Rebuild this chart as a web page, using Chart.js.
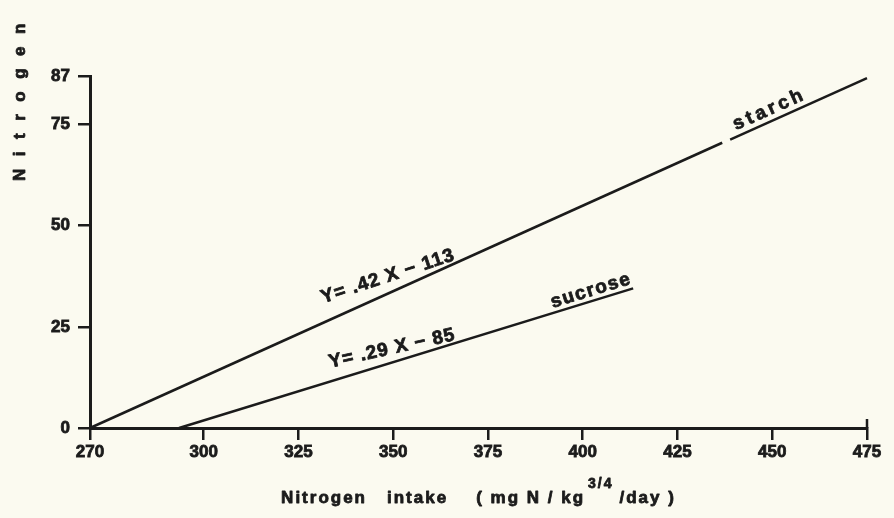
<!DOCTYPE html>
<html>
<head>
<meta charset="utf-8">
<script src="https://cdn.jsdelivr.net/npm/chart.js@4.4.0/dist/chart.umd.min.js"></script>
<style>
  html, body { margin: 0; padding: 0; background: #fbfaf0; }
  canvas { display: block; }
</style>
</head>
<body>
<canvas id="chart" width="894" height="518"></canvas>
<script>
// Nitrogen retention vs nitrogen intake — starch and sucrose diets
const xTicks = [270, 300, 325, 350, 375, 400, 425, 450, 475];
const yTicks = [0, 25, 50, 75, 87];

// starch line has a short break just left of its label
const starchX = [270, 436.8, 438.9, 475];
const starchY = [0, 70.5, 71.3, 86.5];

const sucroseX = [293.5, 413.3];
const sucroseY = [0, 34.5];

const INK = "#1b1b1b";
const PAPER = "#fbfaf0";
const FAMILY = "'Liberation Sans', Arial, sans-serif";

function pts(xs, ys) {
  return xs.map((x, i) => ({ x, y: ys[i] }));
}

// labels written along the lines (at = x value where label is anchored)
const lineLabels = [
  { ds: 0, text: "Y= .42 X \u2212 113", at: 366.8, align: "right", tilt: 6, gap: 1, size: 19, spacing: 1 },
  { ds: 1, text: "Y= .29 X \u2212 85", at: 366.8, align: "right", tilt: 4.5, gap: 1, size: 19, spacing: 1 },
  { ds: 1, text: "sucrose", at: 403, align: "center", tilt: 0, gap: 3, size: 19, spacing: 1.5 },
  { ds: 0, text: "starch", at: 450.5, align: "center", tilt: 0, gap: 4, size: 19, spacing: 3.5 },
];

const xTitle = [
  { t: "Nitrogen", gap: 0 },
  { t: "intake", gap: 20 },
  { t: "( mg N / kg", gap: 28 },
  { t: "3/4", gap: 3, sup: true },
  { t: "/day )", gap: 6 },
];

function yOnLine(d, xv) {
  for (let i = 0; i < d.length - 1; i++) {
    if (xv >= d[i].x && xv <= d[i + 1].x) {
      return d[i].y + (d[i + 1].y - d[i].y) * (xv - d[i].x) / (d[i + 1].x - d[i].x);
    }
  }
  return d[d.length - 1].y;
}

// heavy photocopy-style text: fill plus a thin stroke
function inkText(ctx, s, x, y) {
  ctx.fillText(s, x, y);
  ctx.strokeText(s, x, y);
}

const decor = {
  id: "decor",
  beforeDraw(chart) {
    const { ctx, width, height } = chart;
    ctx.save();
    ctx.fillStyle = PAPER;
    ctx.fillRect(0, 0, width, height);
    ctx.restore();
  },
  afterDraw(chart) {
    const { ctx } = chart;
    const xs = chart.scales.x, ys = chart.scales.y;
    ctx.save();
    ctx.fillStyle = INK;
    ctx.strokeStyle = INK;
    ctx.lineWidth = 0.8;
    ctx.lineJoin = "round";

    // labels on the lines
    lineLabels.forEach((l) => {
      const d = chart.data.datasets[l.ds].data;
      const p0 = d[0], p1 = d[d.length - 1];
      const ang = Math.atan2(
        ys.getPixelForValue(p1.y) - ys.getPixelForValue(p0.y),
        xs.getPixelForValue(p1.x) - xs.getPixelForValue(p0.x)
      ) + (l.tilt * Math.PI) / 180;
      const px = xs.getPixelForValue(l.at);
      const py = ys.getPixelForValue(yOnLine(d, l.at));
      ctx.save();
      ctx.translate(px, py);
      ctx.rotate(ang);
      ctx.font = `bold ${l.size}px ${FAMILY}`;
      ctx.letterSpacing = l.spacing + "px";
      ctx.textAlign = l.align;
      ctx.textBaseline = "alphabetic";
      inkText(ctx, l.text, 0, -l.gap - 2);
      ctx.restore();
    });

    // x axis title
    ctx.letterSpacing = "2px";
    ctx.textBaseline = "alphabetic";
    ctx.textAlign = "left";
    const mainFont = `bold 17px ${FAMILY}`;
    const supFont = `bold 14px ${FAMILY}`;
    let total = 0;
    xTitle.forEach((p) => {
      ctx.font = p.sup ? supFont : mainFont;
      p.w = ctx.measureText(p.t).width;
      total += p.gap + p.w;
    });
    let cx = (xs.left + xs.right) / 2 - total / 2;
    xTitle.forEach((p) => {
      cx += p.gap;
      ctx.font = p.sup ? supFont : mainFont;
      inkText(ctx, p.t, cx, p.sup ? 488 : 503);
      cx += p.w;
    });

    // y axis title, widely spaced letters
    ctx.save();
    ctx.translate(25, 181);
    ctx.rotate(-Math.PI / 2);
    ctx.letterSpacing = "0px";
    ctx.font = `bold 17px ${FAMILY}`;
    let pos = 0;
    for (const ch of "Nitrogen") {
      inkText(ctx, ch, pos, 0);
      pos += ctx.measureText(ch).width + 12.5;
    }
    ctx.restore();

    // the 475 end tick crosses the axis in the original
    const ex = xs.getPixelForValue(xTicks[xTicks.length - 1]);
    ctx.lineWidth = 2.5;
    ctx.beginPath();
    ctx.moveTo(ex, xs.top - 9);
    ctx.lineTo(ex, xs.top);
    ctx.stroke();

    ctx.restore();
  },
};

const tickFont = { family: FAMILY, size: 17, weight: "bold" };

new Chart(document.getElementById("chart"), {
  type: "line",
  data: {
    datasets: [
      {
        label: "starch",
        data: pts(starchX, starchY),
        borderColor: INK,
        borderWidth: 2.5,
        pointRadius: 0,
        clip: false,
        segment: {
          borderColor: (c) => (c.p0DataIndex === 1 ? "rgba(0,0,0,0)" : INK),
        },
      },
      {
        label: "sucrose",
        data: pts(sucroseX, sucroseY),
        borderColor: INK,
        borderWidth: 2.5,
        pointRadius: 0,
        clip: false,
      },
    ],
  },
  options: {
    responsive: false,
    animation: false,
    devicePixelRatio: 1,
    layout: { padding: { top: 76, right: 27, left: 0, bottom: 0 } },
    plugins: { legend: { display: false }, tooltip: { enabled: false } },
    scales: {
      x: {
        type: "linear",
        min: 270,
        max: 475,
        afterBuildTicks: (s) => { s.ticks = xTicks.map((v) => ({ value: v })); },
        afterFit: (s) => { s.height = 90; },
        ticks: { color: INK, font: tickFont, padding: 2, maxRotation: 0, textStrokeColor: INK, textStrokeWidth: 0.8 },
        grid: { drawOnChartArea: false, tickLength: 12, lineWidth: 2.5, color: INK },
        border: { display: true, width: 3, color: INK },
      },
      y: {
        min: 0,
        max: 87,
        afterBuildTicks: (s) => { s.ticks = yTicks.map((v) => ({ value: v })); },
        afterFit: (s) => { s.width = 90; },
        ticks: { color: INK, font: tickFont, padding: 8, textStrokeColor: INK, textStrokeWidth: 0.8 },
        grid: { drawOnChartArea: false, tickLength: 12, lineWidth: 2.5, color: INK },
        border: { display: true, width: 3, color: INK },
      },
    },
  },
  plugins: [decor],
});
</script>
</body>
</html>
